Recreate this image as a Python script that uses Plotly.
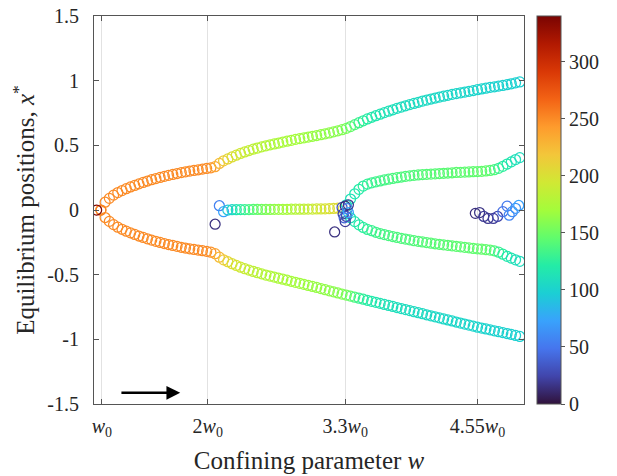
import plotly.graph_objects as go
from plotly.colors import sequential

# ---------------- data ----------------
# sweep values of the confining parameter (units of w0) for the outer branches
W_OUT = [0.99, 1.03, 1.07, 1.11, 1.15, 1.19, 1.23, 1.27, 1.31, 1.35,
         1.39, 1.43, 1.47, 1.51, 1.55, 1.59, 1.63, 1.67, 1.71, 1.75,
         1.79, 1.83, 1.87, 1.91, 1.95, 1.99, 2.03, 2.07, 2.11, 2.15,
         2.19, 2.23, 2.27, 2.31, 2.35, 2.39, 2.43, 2.47, 2.51, 2.55,
         2.59, 2.63, 2.67, 2.71, 2.75, 2.79, 2.83, 2.87, 2.91, 2.95,
         2.99, 3.03, 3.07, 3.11, 3.15, 3.19, 3.23, 3.27, 3.31, 3.35,
         3.39, 3.43, 3.47, 3.51, 3.55, 3.59, 3.63, 3.67, 3.71, 3.75,
         3.79, 3.83, 3.87, 3.91, 3.95, 3.99, 4.03, 4.07, 4.11, 4.15,
         4.19, 4.23, 4.27, 4.31, 4.35, 4.39, 4.43, 4.47, 4.51, 4.55,
         4.59, 4.63, 4.67, 4.71, 4.75, 4.79, 4.83, 4.87, 4.91, 4.95]

Y_OUT_UP = [0.000, 0.060, 0.090, 0.115, 0.135, 0.150, 0.165, 0.178, 0.190, 0.202,
            0.213, 0.224, 0.234, 0.243, 0.252, 0.260, 0.268, 0.275, 0.282, 0.289,
            0.295, 0.301, 0.306, 0.311, 0.316, 0.321, 0.326, 0.335, 0.360, 0.380,
            0.395, 0.410, 0.424, 0.437, 0.449, 0.460, 0.470, 0.479, 0.488, 0.496,
            0.504, 0.511, 0.518, 0.525, 0.532, 0.539, 0.546, 0.552, 0.558, 0.564,
            0.570, 0.576, 0.582, 0.589, 0.596, 0.604, 0.612, 0.621, 0.631, 0.645,
            0.660, 0.675, 0.690, 0.704, 0.717, 0.729, 0.741, 0.753, 0.764, 0.775,
            0.786, 0.796, 0.806, 0.815, 0.824, 0.833, 0.842, 0.850, 0.858, 0.866,
            0.873, 0.880, 0.887, 0.894, 0.900, 0.906, 0.912, 0.918, 0.924, 0.930,
            0.936, 0.942, 0.948, 0.953, 0.958, 0.963, 0.969, 0.976, 0.983, 0.990]

Y_OUT_LO = [0.000, -0.058, -0.088, -0.113, -0.133, -0.149, -0.164, -0.177, -0.189, -0.201,
            -0.212, -0.223, -0.233, -0.242, -0.251, -0.259, -0.267, -0.274, -0.281, -0.288,
            -0.294, -0.300, -0.305, -0.310, -0.315, -0.320, -0.326, -0.338, -0.365, -0.385,
            -0.400, -0.415, -0.429, -0.442, -0.454, -0.465, -0.475, -0.485, -0.494, -0.503,
            -0.511, -0.519, -0.527, -0.535, -0.543, -0.551, -0.559, -0.567, -0.575, -0.583,
            -0.591, -0.599, -0.608, -0.616, -0.625, -0.633, -0.641, -0.650, -0.658, -0.666,
            -0.674, -0.682, -0.690, -0.698, -0.706, -0.714, -0.722, -0.730, -0.738, -0.746,
            -0.754, -0.762, -0.770, -0.778, -0.786, -0.794, -0.802, -0.810, -0.818, -0.826,
            -0.834, -0.842, -0.850, -0.858, -0.866, -0.874, -0.882, -0.890, -0.898, -0.906,
            -0.913, -0.920, -0.927, -0.934, -0.941, -0.948, -0.955, -0.962, -0.970, -0.978]

C_OUT = [252, 250, 250, 250, 250, 250, 250, 250, 250, 250,
         250, 250, 250, 250, 250, 250, 250, 250, 250, 250,
         250, 250, 250, 250, 250, 250, 248, 238, 226, 216,
         208, 202, 197, 193, 190, 187, 184, 182, 180, 178,
         176, 175, 174, 173, 172, 171, 170, 169, 168, 167,
         166, 165, 164, 163, 162, 161, 160, 158, 154, 146,
         138, 131, 126, 122, 119, 117, 115, 113, 112, 111,
         110, 109, 108, 108, 107, 107, 106, 106, 105, 105,
         104, 104, 104, 103, 103, 103, 102, 102, 102, 101,
         101, 101, 100, 100, 100, 100, 99, 99, 99, 98]

# central branch (x* ~ 0) between 2w0 and 3.3w0
W_MID = [2.11, 2.15, 2.19, 2.23, 2.27, 2.31, 2.35, 2.39, 2.43, 2.47,
         2.51, 2.55, 2.59, 2.63, 2.67, 2.71, 2.75, 2.79, 2.83, 2.87,
         2.91, 2.95, 2.99, 3.03, 3.07, 3.11, 3.15, 3.19, 3.23]
Y_MID = [0.033, -0.013, 0.000, 0.002, 0.002, 0.003, 0.003, 0.003, 0.004, 0.004,
         0.004, 0.004, 0.004, 0.005, 0.005, 0.005, 0.005, 0.006, 0.006, 0.006,
         0.006, 0.007, 0.007, 0.008, 0.008, 0.009, 0.010, 0.012, 0.014]
C_MID = [55, 72, 92, 104, 114, 122, 129, 135, 141, 146,
         151, 155, 159, 163, 166, 169, 172, 175, 178, 181,
         184, 187, 190, 193, 196, 198, 200, 202, 204]

# inner pair of branches after 3.3w0
W_IN = [3.31, 3.35, 3.39, 3.43, 3.47, 3.51, 3.55, 3.59, 3.63, 3.67,
        3.71, 3.75, 3.79, 3.83, 3.87, 3.91, 3.95, 3.99, 4.03, 4.07,
        4.11, 4.15, 4.19, 4.23, 4.27, 4.31, 4.35, 4.39, 4.43, 4.47,
        4.51, 4.55, 4.59, 4.63, 4.67, 4.71, 4.75, 4.79, 4.83, 4.87,
        4.91, 4.95]
Y_IN_UP = [0.040, 0.085, 0.125, 0.160, 0.185, 0.200, 0.210, 0.218, 0.225, 0.232,
           0.238, 0.244, 0.250, 0.255, 0.260, 0.264, 0.268, 0.271, 0.274, 0.276,
           0.278, 0.280, 0.282, 0.284, 0.286, 0.288, 0.290, 0.291, 0.293, 0.294,
           0.296, 0.297, 0.299, 0.302, 0.306, 0.312, 0.322, 0.338, 0.355, 0.372,
           0.390, 0.405]
Y_IN_LO = [-0.030, -0.060, -0.090, -0.115, -0.135, -0.150, -0.160, -0.172, -0.182, -0.190,
           -0.198, -0.205, -0.212, -0.219, -0.225, -0.231, -0.237, -0.242, -0.247, -0.252,
           -0.257, -0.261, -0.265, -0.269, -0.273, -0.277, -0.281, -0.285, -0.289, -0.293,
           -0.297, -0.300, -0.303, -0.306, -0.310, -0.316, -0.326, -0.342, -0.358, -0.372,
           -0.385, -0.397]
C_IN = [108, 112, 116, 120, 124, 127, 130, 132, 134, 135,
        136, 137, 138, 138, 139, 139, 140, 140, 141, 141,
        142, 142, 142, 143, 143, 143, 144, 144, 144, 145,
        145, 145, 146, 146, 144, 138, 130, 124, 119, 115,
        111, 108]

# isolated / low-count points
W_PTS = [0.95, 2.07, 3.20, 3.27, 3.28, 3.29, 3.30, 3.30, 3.31, 3.32, 3.33, 3.33,
         4.53, 4.57, 4.61, 4.65, 4.70, 4.74, 4.79, 4.83, 4.85, 4.88, 4.91, 4.94]
Y_PTS = [0.000, -0.110, -0.170, 0.020, -0.030, -0.060, 0.030, -0.090, -0.050, 0.010, -0.020, 0.040,
         -0.026, -0.020, -0.050, -0.065, -0.065, -0.050, -0.013, 0.030, -0.040, -0.013, 0.013, 0.035]
C_PTS = [335, 15, 15, 30, 22, 40, 12, 20, 28, 55, 75, 18,
         14, 16, 20, 18, 20, 24, 45, 52, 56, 62, 66, 72]

X_TICKS = [1, 2, 3.3, 4.55]
X_TICK_TEXT = ["<i>w</i><sub>0</sub>", "2<i>w</i><sub>0</sub>",
               "3.3<i>w</i><sub>0</sub>", "4.55<i>w</i><sub>0</sub>"]
Y_TICKS = [-1.5, -1, -0.5, 0, 0.5, 1, 1.5]
Y_TICK_TEXT = ["-1.5", "-1", "-0.5", "0", "0.5", "1", "1.5"]
C_TICKS = [0, 50, 100, 150, 200, 250, 300]

# ---------------- figure ----------------
FONT = "Liberation Serif"
marker_base = dict(symbol="circle-open", size=10, line=dict(width=1.25),
                   coloraxis="coloraxis", opacity=1)

fig = go.Figure()
for xs, ys, cs in [(W_OUT, Y_OUT_UP, C_OUT), (W_OUT, Y_OUT_LO, C_OUT),
                   (W_MID, Y_MID, C_MID), (W_IN, Y_IN_UP, C_IN),
                   (W_IN, Y_IN_LO, C_IN), (W_PTS, Y_PTS, C_PTS)]:
    fig.add_trace(go.Scatter(x=xs, y=ys, mode="markers",
                             marker=dict(color=cs, **marker_base),
                             showlegend=False, hoverinfo="skip"))

fig.add_annotation(x=1.74, y=-1.413, ax=1.17, ay=-1.413,
                   xref="x", yref="y", axref="x", ayref="y",
                   text="", showarrow=True, arrowhead=2, arrowsize=1.1,
                   arrowwidth=2.5, arrowcolor="black")

axis_common = dict(showline=True, linecolor="#555555", linewidth=1,
                   mirror="ticks", ticks="inside", ticklen=5,
                   tickcolor="#555555", zeroline=False, automargin=False,
                   tickfont=dict(family=FONT, size=20, color="#262626"))

fig.update_layout(
    width=617, height=476,
    margin=dict(l=94, r=93, t=16, b=72),
    paper_bgcolor="white", plot_bgcolor="white",
    font=dict(family=FONT, color="#262626"),
    xaxis=dict(range=[0.925, 4.99], tickvals=X_TICKS, ticktext=X_TICK_TEXT,
               showgrid=True, gridcolor="#e2e2e2", gridwidth=1,
               ticklabelstandoff=4,
               title=dict(text="Confining parameter <i>w</i>",
                          font=dict(family=FONT, size=25, color="#262626"),
                          standoff=12),
               **axis_common),
    yaxis=dict(range=[-1.5, 1.5], tickvals=Y_TICKS, ticktext=Y_TICK_TEXT,
               showgrid=False, ticklabelstandoff=10,
               title=dict(text="Equilibrium positions, <i>x</i><sup>*</sup>",
                          font=dict(family=FONT, size=25, color="#262626"),
                          standoff=5),
               **axis_common),
    coloraxis=dict(
        colorscale=sequential.Turbo, cmin=0, cmax=340,
        colorbar=dict(x=1.03, xanchor="left", xpad=0, ypad=0,
                      y=0.5, yanchor="middle", len=1, lenmode="fraction",
                      thickness=24, outlinewidth=1, outlinecolor="#555555",
                      tickvals=C_TICKS, ticks="outside", ticklen=4,
                      tickcolor="#555555",
                      tickfont=dict(family=FONT, size=20, color="#262626"))),
)

fig.write_html("out.html")
